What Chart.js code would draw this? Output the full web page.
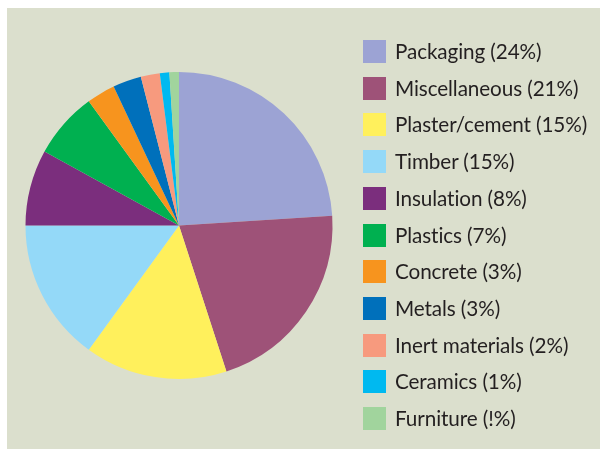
<!DOCTYPE html>
<html>
<head>
<meta charset="utf-8">
<script src="https://cdn.jsdelivr.net/npm/chart.js@4"></script>
<style>
  body { margin: 0; background: #fff; width: 600px; height: 449px; overflow: hidden; }
  #panel { position: absolute; left: 7px; top: 8px; width: 593px; height: 441px; background: #dbdfcd; }
  #wrap { position: absolute; left: 0; top: 0; width: 600px; height: 449px; }
  #legend { position: absolute; left: 363px; top: 40px; font-family: Lato, sans-serif; font-size: 20.7px;
    letter-spacing: -0.1px; font-variant-ligatures: none; color: #231f20; }
  .item { position: absolute; left: 0; height: 23px; white-space: nowrap; }
  .box { position: absolute; left: 0; top: 0; width: 23px; height: 23px; }
  .txt { position: absolute; left: 32px; top: 0; line-height: 23px; }
</style>
</head>
<body>
<div id="panel"></div>
<div id="wrap"><canvas id="pieChart" width="600" height="449"></canvas></div>
<div id="legend"></div>
<script>
const categories = ['Packaging', 'Miscellaneous', 'Plaster/cement', 'Timber', 'Insulation', 'Plastics',
  'Concrete', 'Metals', 'Inert materials', 'Ceramics', 'Furniture'];
const shares = [24, 21, 15, 15, 8, 7, 3, 3, 2, 1, 1];
// as printed in the legend (including the "!%" typo)
const shareLabels = ['24%', '21%', '15%', '15%', '8%', '7%', '3%', '3%', '2%', '1%', '!%'];
const colors = ['#9ca3d4', '#9e5278', '#fff05c', '#94d9f8', '#7b2e7d', '#00b050',
  '#f7941e', '#0070bb', '#f79a7e', '#00b9f0', '#a1d49d'];

function buildLegend() {
  const legend = document.getElementById('legend');
  categories.forEach((c, i) => {
    const item = document.createElement('div');
    item.className = 'item';
    item.style.top = (i * 36.7) + 'px';
    item.innerHTML = '<div class="box" style="background:' + colors[i] + '"></div>' +
      '<div class="txt">' + c + ' (' + shareLabels[i] + ')</div>';
    legend.appendChild(item);
  });
}

function renderChart() {
  const ctx = document.getElementById('pieChart').getContext('2d');
  new Chart(ctx, {
    type: 'pie',
    data: {
      labels: categories,
      datasets: [{
        data: shares,
        backgroundColor: colors,
        borderWidth: 0
      }]
    },
    options: {
      responsive: false,
      animation: false,
      layout: {
        padding: { left: 25.5, top: 72, right: 267.5, bottom: 70 }
      },
      plugins: {
        legend: { display: false },
        tooltip: { enabled: false }
      }
    }
  });
}

buildLegend();
renderChart();
</script>
</body>
</html>
